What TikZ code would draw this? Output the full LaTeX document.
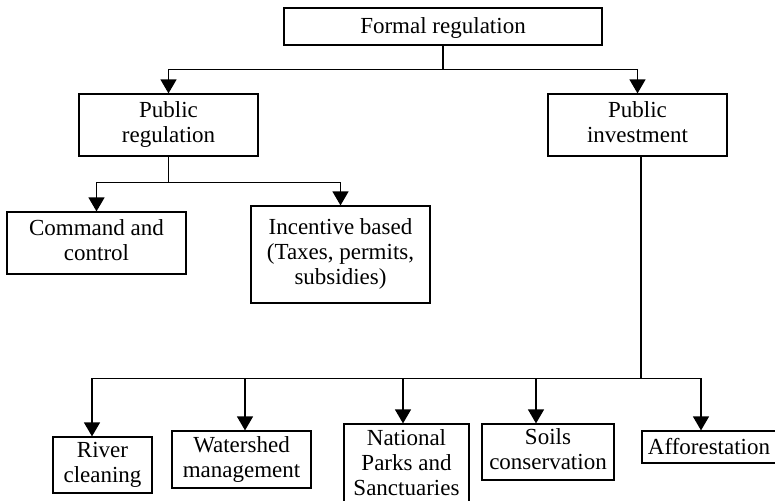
\documentclass[tikz,border=0pt]{standalone}
\usepackage{fontspec}
\setmainfont{Liberation Serif}
\usetikzlibrary{arrows.meta}
\newcommand\boxstrut{\rule[-5pt]{0pt}{24pt}}

\begin{document}
\begin{tikzpicture}[x=1pt,y=-1pt,
	box_node/.style={rectangle,draw,line width=1.2pt,align=center,inner sep=0pt,font=\fontsize{23}{25}\selectfont,
		execute at begin node=\boxstrut,execute at end node=\boxstrut},
	link/.style={line width=1.3pt},
	arr/.style={line width=1.3pt,-{Triangle[width=16pt,length=14pt]}}]
		\useasboundingbox (0,0) rectangle (775,500);

		\node[box_node,minimum width=318pt,minimum height=37pt] (formal) at (443,26.5) {Formal regulation};
		\node[box_node,minimum width=179pt,minimum height=62pt] (pubreg) at (168.5,125) {Public\\regulation};
		\node[box_node,minimum width=179pt,minimum height=62pt] (pubinv) at (637.5,125) {Public\\investment};
		\node[box_node,minimum width=179pt,minimum height=62pt] (cmd) at (96.5,243) {Command and\\control};
		\node[box_node,minimum width=179pt,minimum height=97pt] (incent) at (340.5,254.5) {Incentive based\\(Taxes, permits,\\subsidies)};
		\node[box_node,minimum width=99pt,minimum height=56pt] (river) at (102.5,465) {River\\cleaning};
		\node[box_node,minimum width=139pt,minimum height=57pt] (water) at (241.5,459.5) {Watershed\\management};
		\node[box_node,minimum width=125pt,minimum height=82pt] (parks) at (406.5,465) {National\\Parks and\\Sanctuaries};
		\node[box_node,minimum width=132pt,minimum height=56pt] (soils) at (548,452) {Soils\\conservation};
		\node[box_node,minimum width=134pt,minimum height=32pt] (affor) at (709,447) {Afforestation};

		\draw[link] (formal.south) -- ++(0,24) coordinate (j1);
		\draw[arr] (j1) -| (pubreg.north);
		\draw[arr] (j1) -| (pubinv.north);

		\draw[link] (pubreg.south) -- ++(0,26) coordinate (j2);
		\draw[arr] (j2) -| (cmd.north);
		\draw[arr] (j2) -| (incent.north);

		\draw[link] ([xshift=3.5pt]pubinv.south) -- ++(0,222) coordinate (j3);
		\draw[arr] (j3) -| ([xshift=-10.5pt]river.north);
		\draw[arr] (j3) -| ([xshift=3.5pt]water.north);
		\draw[arr] (j3) -| ([xshift=-3.5pt]parks.north);
		\draw[arr] (j3) -| ([xshift=-12pt]soils.north);
		\draw[arr] (j3) -| ([xshift=-8pt]affor.north);
		\end{tikzpicture}
\end{document}
